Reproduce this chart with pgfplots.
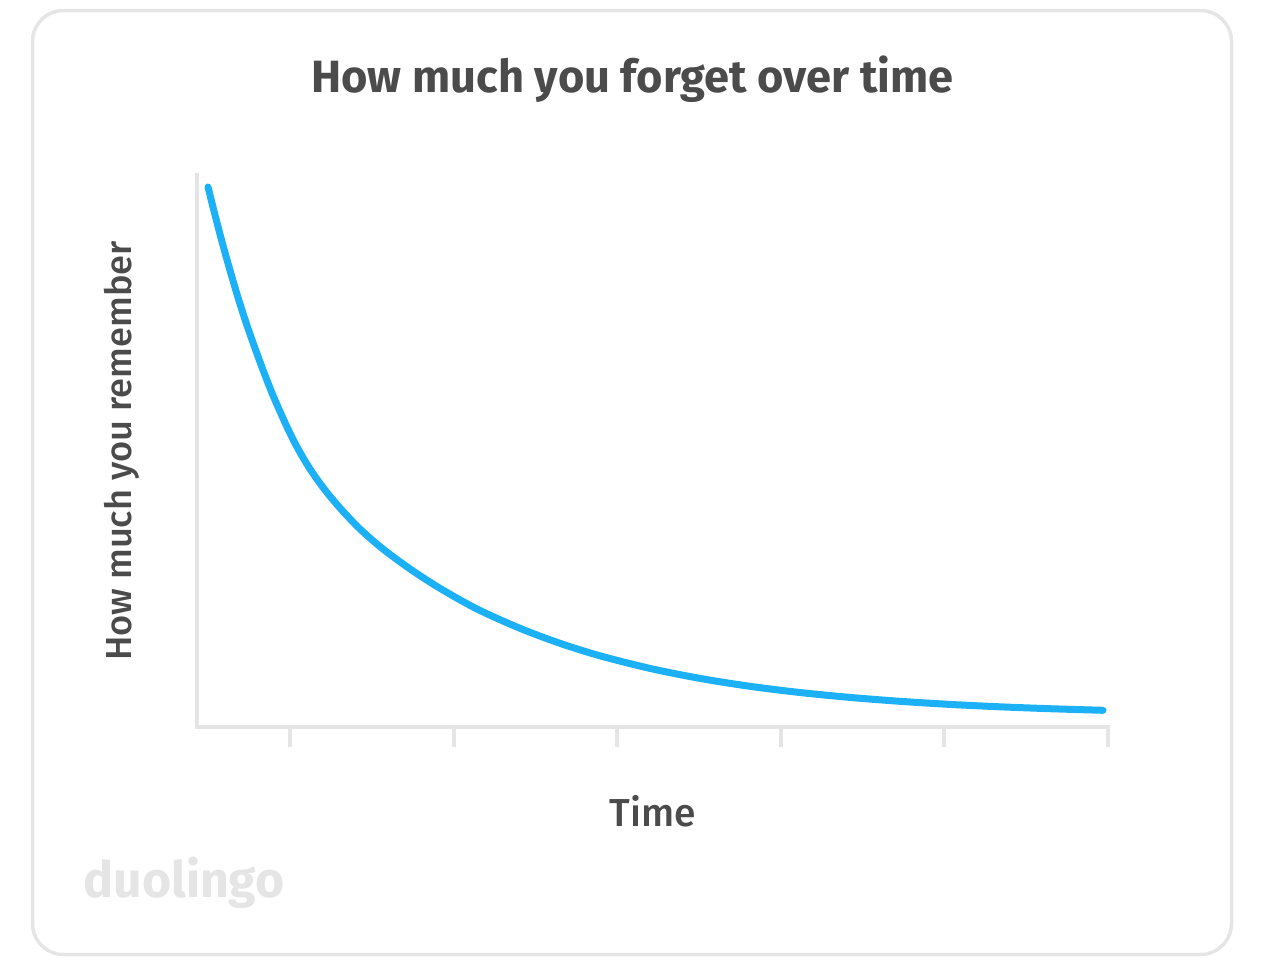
\documentclass[border=0pt]{standalone}
\usepackage{pgfplots}
\pgfplotsset{compat=1.18}
\usepackage{fontspec}
\setmainfont{Fira Sans}
\newfontfamily\firamed{Fira Sans Medium}
\definecolor{txt}{HTML}{4B4B4B}
\definecolor{lgray}{HTML}{E5E5E5}
\definecolor{duoblue}{HTML}{1CB0F6}
\begin{document}
\begin{tikzpicture}
\begin{scope}[x=0.5pt,y=-0.5pt]
\useasboundingbox (0,0) rectangle (1266,966);
\draw[lgray, line width=1.75pt, rounded corners=15.5pt] (32.5,10.5) rectangle (1231.5,954.5);
\node[anchor=base, text=txt, font=\bfseries\fontsize{22.6}{27}\selectfont, inner sep=0] at (632.5,92) {How much you forget over time};
\node[anchor=base west, text=lgray, font=\bfseries\fontsize{25}{30}\selectfont, inner sep=0] at (83,897) {duolingo};
\end{scope}
\begin{axis}[at={(98.5pt,-363.5pt)}, anchor=south west, scale only axis,
  width=455.5pt, height=276pt, xmin=197, xmax=1108, ymin=0, ymax=552,
  axis x line=bottom, axis y line=left,
  axis line style={lgray, line width=2pt, -, line cap=rect},
  xtick={290,453.6,617.2,780.8,944.4,1108}, xticklabels={}, ytick=\empty,
  tick align=outside, major tick length=10pt,
  xtick style={lgray, line width=2pt},
  clip=false,
  xlabel={Time}, ylabel={How much you remember},
  xlabel style={at={(axis description cs:0.5,-0.181)}, anchor=base, rotate=0,
    text=txt, font=\firamed\fontsize{19.5}{23}\selectfont, inner sep=0},
  ylabel style={at={(axis description cs:-0.0724,0.5)}, anchor=base, rotate=0,
    text=txt, font=\firamed\fontsize{18.1}{22}\selectfont, inner sep=0}]
\addplot[duoblue, line width=3.5pt, line cap=round, smooth, tension=0.5] coordinates {
(208,540) (215,512) (222,485.3) (230,456.7) (238,429.5) (246,404.5) (254,381.6)
(263,357) (272,334) (280,315.5) (288,298) (297,280) (310,258) (325,237)
(340,219) (360,198) (383,178) (410,158.1) (440,138.7) (477,118) (520,98.7)
(560,83.7) (600,71.2) (650,58.6) (700,48.6) (750,40.7) (800,34.5) (850,29.6)
(900,25.7) (950,22.6) (1000,20.2) (1050,18.3) (1103,16.7)};
\end{axis}
\end{tikzpicture}
\end{document}
